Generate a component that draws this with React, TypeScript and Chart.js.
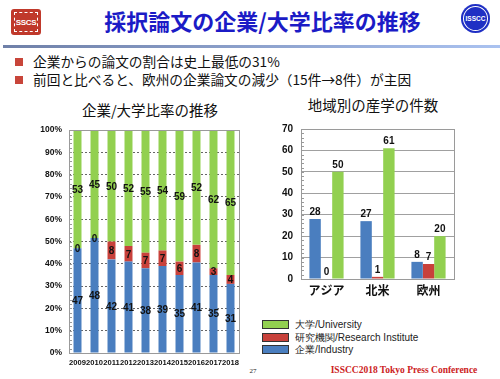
import React, { useEffect, useRef } from 'react';
import { Chart, registerables } from 'chart.js';

Chart.register(...registerables);

// ---- data ----
const years = ['2009', '2010', '2011', '2012', '2013', '2014', '2015', '2016', '2017', '2018'];
const industryShare = [47, 48, 42, 41, 38, 39, 35, 41, 35, 31];
const researchShare = [0, 0, 8, 7, 7, 7, 6, 8, 3, 4];
const universityShare = [53, 45, 50, 52, 55, 54, 59, 52, 62, 65];

const regions = ['アジア', '北米', '欧州'];
const industryCount = [28, 27, 8];
const researchCount = [0, 1, 7];
const universityCount = [50, 61, 20];

const seriesNames = ['企業/Industry', '研究機関/Research Institute', '大学/University'];

const BLUE = '#4a7ebf';
const RED = '#c8413b';
const GREEN = '#92d050';
const NUM_FONT = '"Liberation Sans", Arial, sans-serif';
const JP_FONT = '"Noto Sans CJK JP", "Noto Sans", sans-serif';

const frameTicks = (minorStep: number) => ({
  id: 'frameTicks',
  beforeDatasetsDraw(chart: any) {
    const { ctx, chartArea } = chart;
    const y = chart.scales.y;
    ctx.save();
    ctx.strokeStyle = '#999';
    ctx.lineWidth = 1;
    for (let v = y.min; v <= y.max; v += minorStep) {
      const py = Math.round(y.getPixelForValue(v)) + 0.5;
      ctx.beginPath();
      ctx.moveTo(chartArea.left, py);
      ctx.lineTo(chartArea.left + 3, py);
      ctx.stroke();
    }
    ctx.restore();
  },
  afterDatasetsDraw(chart: any) {
    const { ctx, chartArea } = chart;
    ctx.save();
    ctx.strokeStyle = '#9a9a9a';
    ctx.lineWidth = 1;
    ctx.strokeRect(
      Math.round(chartArea.left) + 0.5,
      Math.round(chartArea.top) + 0.5,
      Math.round(chartArea.right - chartArea.left),
      Math.round(chartArea.bottom - chartArea.top)
    );
    ctx.restore();
  },
});

const valueLabels = (mode: 'middle' | 'top') => ({
  id: 'valueLabels',
  afterDraw(chart: any) {
    const ctx = chart.ctx;
    ctx.save();
    ctx.font = `bold 10px ${NUM_FONT}`;
    ctx.fillStyle = '#111';
    ctx.textAlign = 'center';
    chart.data.datasets.forEach((ds: any, di: number) => {
      const meta = chart.getDatasetMeta(di);
      meta.data.forEach((el: any, i: number) => {
        const txt = String(ds.rawValues[i]);
        if (mode === 'middle') {
          ctx.textBaseline = 'middle';
          ctx.fillText(txt, el.x, (el.y + el.base) / 2 + 1);
        } else {
          ctx.textBaseline = 'bottom';
          ctx.fillText(txt, el.x, el.y - 2);
        }
      });
    });
    ctx.restore();
  },
});

function ShareChart() {
  const ref = useRef<HTMLCanvasElement>(null);
  useEffect(() => {
    const totals = years.map((_, i) => industryShare[i] + researchShare[i] + universityShare[i]);
    const pct = (arr: number[]) => arr.map((v, i) => (v / totals[i]) * 100);
    const mk = (label: string, raw: number[], color: string) => ({
      label,
      data: pct(raw),
      rawValues: raw,
      backgroundColor: color,
      barPercentage: 0.47,
      categoryPercentage: 1,
      stack: 's',
    });
    const chart = new Chart(ref.current!, {
      type: 'bar',
      data: {
        labels: years,
        datasets: [
          mk(seriesNames[0], industryShare, BLUE),
          mk(seriesNames[1], researchShare, RED),
          mk(seriesNames[2], universityShare, GREEN),
        ] as any,
      },
      options: {
        animation: false,
        responsive: false,
        devicePixelRatio: 1,
        layout: { padding: { top: 6, right: 6, left: 0, bottom: 0 } },
        plugins: { legend: { display: false }, tooltip: { enabled: false } },
        scales: {
          x: {
            stacked: true,
            grid: { display: false, drawTicks: false },
            border: { display: false },
            ticks: {
              autoSkip: false,
              maxRotation: 0,
              padding: 5,
              color: '#111',
              font: { family: NUM_FONT, size: 7.6, weight: 'bold' },
            },
            afterFit: (s: any) => { s.height = 20; },
          },
          y: {
            stacked: true,
            min: 0,
            max: 100,
            grid: { color: '#666', drawTicks: false },
            border: { display: false, dash: [2, 2] },
            ticks: {
              stepSize: 10,
              padding: 7,
              color: '#111',
              font: { family: NUM_FONT, size: 8.5, weight: 'bold' },
              callback: (v: any) => v + '%',
            },
            afterFit: (s: any) => { s.width = 49; },
          },
        },
      } as any,
      plugins: [frameTicks(2), valueLabels('middle')],
    });
    return () => chart.destroy();
  }, []);
  return (
    <canvas
      ref={ref}
      width={225}
      height={255}
      style={{ position: 'absolute', left: 20, top: 118, width: 225, height: 255 }}
    />
  );
}

function RegionChart() {
  const ref = useRef<HTMLCanvasElement>(null);
  useEffect(() => {
    const mk = (label: string, raw: number[], color: string) => ({
      label,
      data: raw,
      rawValues: raw,
      backgroundColor: color,
      barPercentage: 1,
      categoryPercentage: 0.67,
    });
    const chart = new Chart(ref.current!, {
      type: 'bar',
      data: {
        labels: regions,
        datasets: [
          mk(seriesNames[0], industryCount, BLUE),
          mk(seriesNames[1], researchCount, RED),
          mk(seriesNames[2], universityCount, GREEN),
        ] as any,
      },
      options: {
        animation: false,
        responsive: false,
        devicePixelRatio: 1,
        layout: { padding: { top: 9, right: 8, left: 0, bottom: 0 } },
        plugins: { legend: { display: false }, tooltip: { enabled: false } },
        scales: {
          x: {
            grid: { display: false, drawTicks: false },
            border: { display: false },
            ticks: {
              padding: 4,
              color: '#111',
              font: { family: JP_FONT, size: 12, weight: 'bold' },
            },
            afterFit: (s: any) => { s.height = 26; },
          },
          y: {
            min: 0,
            max: 70,
            grid: { color: (c: any) => (c.tick && c.tick.value === 70 ? '#555' : '#a0a0a0'), drawTicks: false },
            border: { display: false },
            ticks: {
              stepSize: 10,
              padding: 8,
              color: '#111',
              font: { family: NUM_FONT, size: 10, weight: 'bold' },
            },
            afterFit: (s: any) => { s.width = 39; },
          },
        },
      } as any,
      plugins: [frameTicks(2), valueLabels('top')],
    });
    return () => chart.destroy();
  }, []);
  return (
    <canvas
      ref={ref}
      width={200}
      height={190}
      style={{ position: 'absolute', left: 262, top: 115, width: 200, height: 190 }}
    />
  );
}

const T = (p: { x: number; y: number; style?: any; children: any; center?: boolean }) => (
  <div
    style={{
      position: 'absolute',
      left: p.x,
      top: p.y,
      transform: p.center ? 'translate(-50%, -50%)' : 'translate(0, -50%)',
      whiteSpace: 'nowrap',
      lineHeight: 1,
      ...p.style,
    }}
  >
    {p.children}
  </div>
);

export default function App() {
  useEffect(() => {
    document.body.style.margin = '0';
  }, []);
  const legendItems = [
    { name: seriesNames[2], color: GREEN, y: 320 },
    { name: seriesNames[1], color: RED, y: 333 },
    { name: seriesNames[0], color: BLUE, y: 345 },
  ];
  return (
    <div
      style={{
        position: 'absolute',
        left: 0,
        top: 0,
        width: 500,
        height: 379,
        background: '#fff',
        overflow: 'hidden',
        fontFamily: JP_FONT,
      }}
    >
      {/* SSCS logo */}
      <div
        style={{
          position: 'absolute', left: 11, top: 9, width: 30, height: 26,
          background: '#c0392b', borderRadius: 3,
        }}
      >
        <div
          style={{
            position: 'absolute', left: 3, top: 3, right: 3, bottom: 3,
            border: '1px dashed #fff', display: 'flex', alignItems: 'center', justifyContent: 'center',
            color: '#fff', fontFamily: NUM_FONT, fontWeight: 'bold', fontSize: 8, letterSpacing: -0.3,
          }}
        >
          SSCS
        </div>
      </div>
      {/* ISSCC logo */}
      <div
        style={{
          position: 'absolute', left: 461, top: 4, width: 29, height: 29, borderRadius: '50%',
          background: '#1f2fc4', boxShadow: 'inset 0 0 0 2px #1f2fc4, inset 0 0 0 3px #fff',
          display: 'flex', alignItems: 'center', justifyContent: 'center',
          color: '#fff', fontFamily: NUM_FONT, fontWeight: 'bold', fontSize: 6.5,
        }}
      >
        ISSCC
      </div>

      <T x={262.5} y={20} center style={{ fontSize: 22, fontWeight: 'bold', color: '#1b1bc6' }}>
        採択論文の企業/大学比率の推移
      </T>
      <div
        style={{
          position: 'absolute', left: 3, top: 45, width: 497, height: 3,
          background: 'linear-gradient(to right, #6f80a8, #aac2f0)',
        }}
      />

      <div style={{ position: 'absolute', left: 15, top: 58, width: 8, height: 8, background: '#c8453a' }} />
      <div style={{ position: 'absolute', left: 15, top: 76, width: 8, height: 8, background: '#c8453a' }} />
      <T x={33} y={62} style={{ fontSize: 13.7, color: '#111' }}>
        企業からの論文の割合は史上最低の31%
      </T>
      <T x={33} y={80} style={{ fontSize: 13.7, color: '#111' }}>
        前回と比べると、欧州の企業論文の減少（15件→8件）が主因
      </T>

      <T x={150} y={110} center style={{ fontSize: 14.5, color: '#111' }}>
        企業/大学比率の推移
      </T>
      <T x={373} y={105} center style={{ fontSize: 14.5, color: '#111' }}>
        地域別の産学の件数
      </T>

      <ShareChart />
      <RegionChart />

      {legendItems.map((it) => (
        <React.Fragment key={it.name}>
          <div
            style={{
              position: 'absolute', left: 262, top: it.y, width: 25, height: 7,
              background: it.color, border: '1px solid #333',
            }}
          />
          <T x={295} y={it.y + 4.5} style={{ fontSize: 10, color: '#222', fontFamily: `${NUM_FONT}` }}>
            {it.name}
          </T>
        </React.Fragment>
      ))}

      <T x={253} y={371} center style={{ fontSize: 7, fontFamily: '"Liberation Serif", serif', color: '#222' }}>
        27
      </T>
      <T
        x={404}
        y={371}
        center
        style={{ fontSize: 9.5, fontFamily: '"Liberation Serif", serif', fontWeight: 'bold', color: '#cc2222' }}
      >
        ISSCC2018 Tokyo Press Conference
      </T>
    </div>
  );
}
